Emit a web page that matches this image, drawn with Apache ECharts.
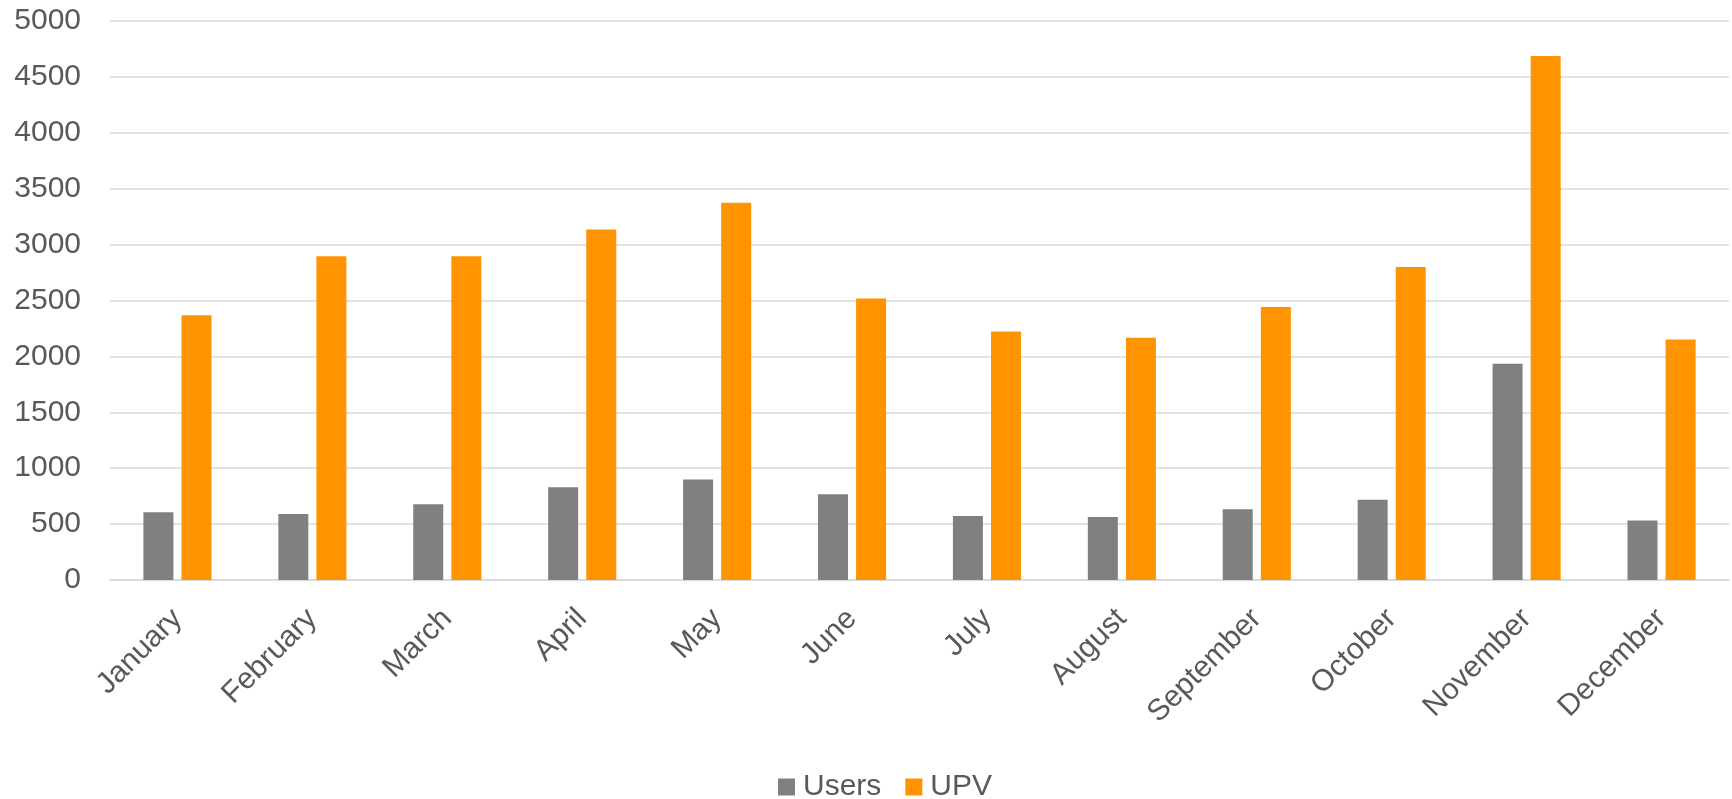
<!DOCTYPE html>
<html>
<head>
<meta charset="utf-8">
<script src="https://cdn.jsdelivr.net/npm/echarts@6/dist/echarts.min.js"></script>
<style>
html,body{margin:0;padding:0;background:#fff;}
#chart{width:1732px;height:799px;}
</style>
</head>
<body>
<div id="chart"></div>
<script>
const categories = ['January','February','March','April','May','June','July','August','September','October','November','December'];
const usersValues = [605, 590, 677, 829, 900, 768, 573, 564, 633, 718, 1935, 533];
const upvValues = [2368, 2895, 2895, 3135, 3375, 2518, 2222, 2166, 2442, 2799, 4688, 2152];
const seriesNames = ['Users', 'UPV'];

const FONT = '"Liberation Sans", Arial, sans-serif';
const TEXT = '#595959';

const chart = echarts.init(document.getElementById('chart'), null, {renderer: 'canvas'});
chart.setOption({
  backgroundColor: '#ffffff',
  animation: false,
  grid: {left: 110, right: 3, top: 21, bottom: 219, containLabel: false},
  legend: {
    data: seriesNames,
    left: 773,
    top: 767,
    icon: 'rect',
    itemWidth: 17,
    itemHeight: 17,
    itemGap: 24,
    textStyle: {color: TEXT, fontSize: 30, fontFamily: FONT, padding: [0, 0, 0, 3]}
  },
  xAxis: {
    type: 'category',
    data: categories,
    axisLine: {show: true, lineStyle: {color: '#d9d9d9', width: 1.5}},
    axisTick: {show: false},
    axisLabel: {rotate: 45, color: TEXT, fontSize: 30, fontFamily: FONT, margin: 34, interval: 0}
  },
  yAxis: {
    type: 'value',
    min: 0,
    max: 5000,
    interval: 500,
    axisLine: {show: false},
    axisTick: {show: false},
    splitLine: {lineStyle: {color: '#d9d9d9', width: 1.5}},
    axisLabel: {color: TEXT, fontSize: 30, fontFamily: FONT, margin: 29,
      formatter: function (v) { return String(v); }}
  },
  series: [
    {name: seriesNames[0], type: 'bar', data: usersValues, barWidth: 30, barGap: '27%',
     itemStyle: {color: '#808080'}},
    {name: seriesNames[1], type: 'bar', data: upvValues, barWidth: 30,
     itemStyle: {color: '#ff9300'}}
  ]
});
</script>
</body>
</html>
